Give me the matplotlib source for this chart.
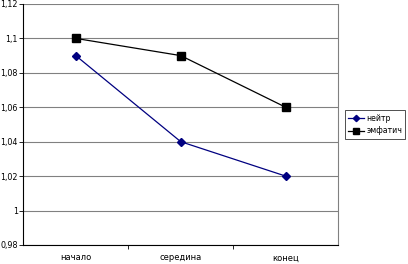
import matplotlib.pyplot as plt
from matplotlib.ticker import FuncFormatter

categories = ["начало", "середина", "конец"]
neytr = [1.09, 1.04, 1.02]
emfatich = [1.1, 1.09, 1.06]
yticks = [0.98, 1.0, 1.02, 1.04, 1.06, 1.08, 1.1, 1.12]

fig = plt.figure(figsize=(4.08, 2.64), dpi=100)
ax = fig.add_axes([0.057, 0.072, 0.772, 0.913])

x = range(len(categories))
ax.plot(x, neytr, color="#000080", marker="D", markersize=4, linewidth=0.9, label="нейтр")
ax.plot(x, emfatich, color="black", marker="s", markersize=6, linewidth=0.9, label="эмфатич")

ax.set_xlim(-0.5, 2.5)
ax.set_ylim(0.98, 1.12)
ax.set_yticks(yticks)
ax.yaxis.set_major_formatter(FuncFormatter(lambda v, p: ("%g" % round(v, 2)).replace(".", ",")))
ax.set_xticks(list(x))
ax.set_xticklabels(categories)
ax.set_xticks([0.5, 1.5], minor=True)
ax.tick_params(axis="x", which="major", length=0, labelsize=6, pad=6)
ax.tick_params(axis="x", which="minor", length=3, width=0.6)
ax.tick_params(axis="y", length=3, width=0.6, labelsize=5.8, pad=1)
ax.grid(axis="y", color="#808080", linewidth=0.8)
ax.set_axisbelow(True)

ax.spines["top"].set_visible(False)
ax.spines["right"].set_color("#808080")
ax.spines["left"].set_linewidth(0.8)
ax.spines["bottom"].set_linewidth(0.8)

leg = ax.legend(loc="center left", bbox_to_anchor=(1.01, 0.5), fontsize=5.6,
                frameon=True, fancybox=False, edgecolor="black", markerscale=0.8,
                handlelength=2.0, borderpad=0.4, labelspacing=0.5, handletextpad=0.3)
leg.get_frame().set_linewidth(0.6)

fig.savefig("out.png", dpi=100)
